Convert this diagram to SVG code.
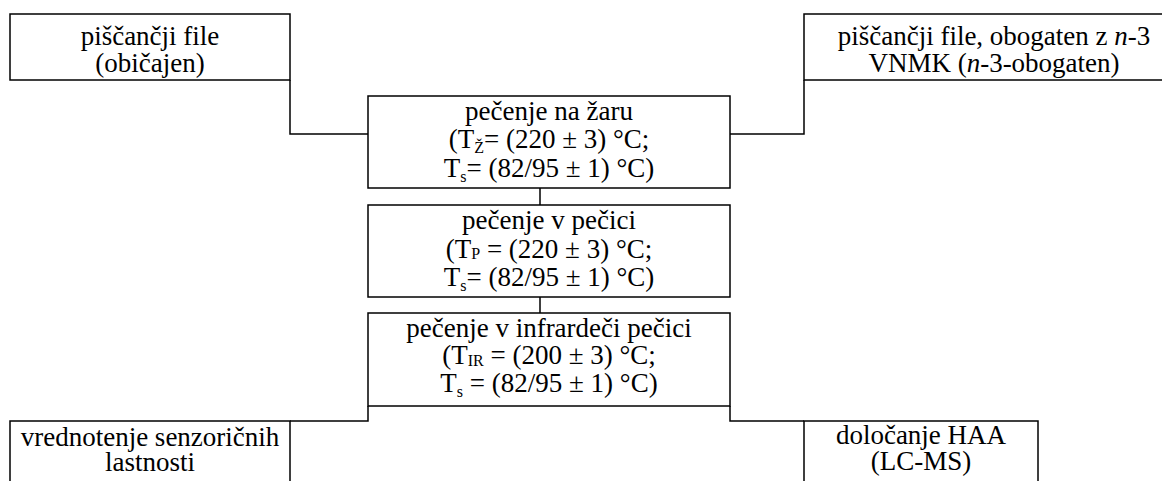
<svg xmlns="http://www.w3.org/2000/svg" width="1162" height="481" viewBox="0 0 1162 481">
  <style>
    .box { fill: #ffffff; stroke: #000000; stroke-width: 1.5; }
    .link { fill: none; stroke: #000000; stroke-width: 1.5; stroke-linejoin: miter; }
    .t { font-family: 'Liberation Serif', 'Times New Roman', serif; font-size: 27px; fill: #000000; text-anchor: middle; }
    .sub { font-size: 16px; }
  </style>
  <rect width="1162" height="481" fill="#ffffff"/>

  <!-- connectors: elbow lines between the process boxes -->
  <g id="connectors">
    <path class="link" d="M290,80 V134 H368"/>
    <path class="link" d="M804,80 V134 H730"/>
    <path class="link" d="M540,188 V205"/>
    <path class="link" d="M540,297 V313"/>
    <path class="link" d="M368,406 V421 H290"/>
    <path class="link" d="M730,406 V421 H804"/>
  </g>

  <g id="fillet-regular">
    <rect class="box" x="10" y="14" width="280" height="66"/>
    <text class="t" x="150" y="45">piščančji file</text>
    <text class="t" x="150" y="72">(običajen)</text>
  </g>

  <g id="fillet-enriched">
    <rect class="box" x="804" y="14" width="400" height="66"/>
    <text class="t" x="994" y="45">piščančji file, obogaten z <tspan font-style="italic">n</tspan>-3</text>
    <text class="t" x="994" y="72">VNMK (<tspan font-style="italic">n</tspan>-3-obogaten)</text>
  </g>

  <g id="grill">
    <rect class="box" x="368" y="96" width="362" height="92"/>
    <text class="t" x="549" y="120">pečenje na žaru</text>
    <text class="t" x="549" y="148">(T<tspan class="sub" dy="5">Ž</tspan><tspan dy="-5">= (220 ± 3) °C;</tspan></text>
    <text class="t" x="549" y="177">T<tspan class="sub" dy="5">s</tspan><tspan dy="-5">= (82/95 ± 1) °C)</tspan></text>
  </g>

  <g id="oven">
    <rect class="box" x="368" y="205" width="362" height="92"/>
    <text class="t" x="549" y="229">pečenje v pečici</text>
    <text class="t" x="549" y="258">(T<tspan class="sub" dy="1">P</tspan><tspan dy="-1"> = (220 ± 3) °C;</tspan></text>
    <text class="t" x="549" y="286">T<tspan class="sub" dy="5">s</tspan><tspan dy="-5">= (82/95 ± 1) °C)</tspan></text>
  </g>

  <g id="ir-oven">
    <rect class="box" x="368" y="313" width="362" height="93"/>
    <text class="t" x="549" y="337">pečenje v infrardeči pečici</text>
    <text class="t" x="549" y="364">(T<tspan class="sub" dy="2">IR</tspan><tspan dy="-2"> = (200 ± 3) °C;</tspan></text>
    <text class="t" x="549" y="392">T<tspan class="sub" dy="5">s</tspan><tspan dy="-5"> = (82/95 ± 1) °C)</tspan></text>
  </g>

  <g id="sensory">
    <rect class="box" x="10" y="421" width="280" height="80"/>
    <text class="t" x="150" y="446">vrednotenje senzoričnih</text>
    <text class="t" x="150" y="471">lastnosti</text>
  </g>

  <g id="haa">
    <rect class="box" x="804" y="421" width="234" height="80"/>
    <text class="t" x="921" y="444">določanje HAA</text>
    <text class="t" x="921" y="470">(LC-MS)</text>
  </g>
</svg>
